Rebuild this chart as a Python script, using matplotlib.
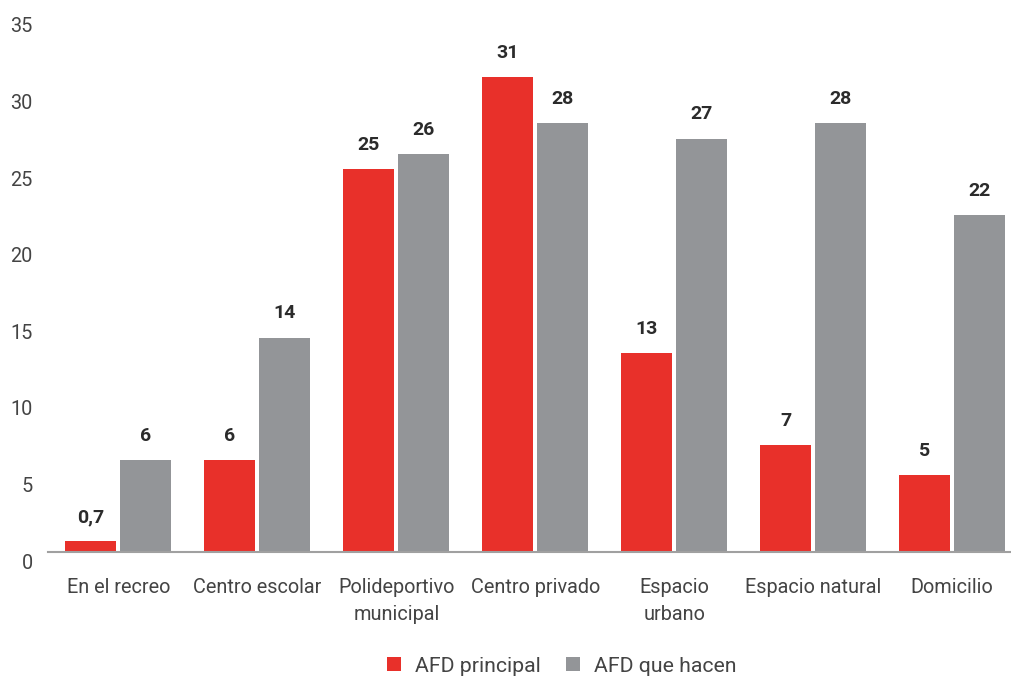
import matplotlib
matplotlib.use("Agg")
import matplotlib.pyplot as plt
import numpy as np
from matplotlib.transforms import ScaledTranslation
from matplotlib.patches import Patch

plt.rcParams['font.family'] = ['Roboto', 'DejaVu Sans']

categories = ["En el recreo", "Centro escolar", "Polideportivo\nmunicipal",
              "Centro privado", "Espacio\nurbano", "Espacio natural", "Domicilio"]
afd_principal = [0.7, 6, 25, 31, 13, 7, 5]
afd_que_hacen = [6, 14, 26, 28, 27, 28, 22]
principal_labels = ["0,7", "6", "25", "31", "13", "7", "5"]
hacen_labels = ["6", "14", "26", "28", "27", "28", "22"]
series_names = ["AFD principal", "AFD que hacen"]
yticks = [0, 5, 10, 15, 20, 25, 30, 35]

RED = "#E8302A"
GREY = "#939598"
TEXT = "#444444"

fig = plt.figure(figsize=(10.12, 6.77), dpi=100)
ax = fig.add_axes([0.0474, 0.1846, 0.9526, 0.7918])

x = np.arange(len(categories))
width = 0.367
offset = 0.198

bars1 = ax.bar(x - offset, afd_principal, width, color=RED, zorder=2)
bars2 = ax.bar(x + offset, afd_que_hacen, width, color=GREY, zorder=2)

for bars, labels in ((bars1, principal_labels), (bars2, hacen_labels)):
    for b, lab in zip(bars, labels):
        ax.annotate(lab, (b.get_x() + b.get_width() / 2, b.get_height()),
                    xytext=(0, 11), textcoords="offset points",
                    ha="center", va="bottom", fontsize=14,
                    fontweight="bold", color="#2b2b2b")

ax.set_xlim(-0.507, 6.43)
ax.set_ylim(0, 35)
ax.set_yticks(yticks)
ax.set_yticklabels([str(t) for t in yticks])
ax.set_xticks(x)
ax.set_xticklabels(categories, linespacing=1.5)

for s in ("top", "right", "left"):
    ax.spines[s].set_visible(False)
ax.spines["bottom"].set_color("#a0a0a0")
ax.spines["bottom"].set_linewidth(1.5)
ax.spines["bottom"].set_zorder(3)

ax.tick_params(axis="both", length=0, labelsize=14.3, labelcolor=TEXT)
ax.tick_params(axis="y", pad=11)
ax.tick_params(axis="x", pad=19)

shift = ScaledTranslation(0, -9 / 100, fig.dpi_scale_trans)
for lbl in ax.get_yticklabels():
    lbl.set_transform(lbl.get_transform() + shift)

handles = [Patch(facecolor=RED, edgecolor="none"), Patch(facecolor=GREY, edgecolor="none")]
leg = fig.legend(handles, series_names, loc="center", bbox_to_anchor=(0.555, 0.016),
                 ncol=2, frameon=False, prop={"size": 15.3},
                 handlelength=0.65, handleheight=0.65,
                 handletextpad=0.65, columnspacing=1.2, labelcolor=TEXT)

fig.savefig("out.png", dpi=100)
